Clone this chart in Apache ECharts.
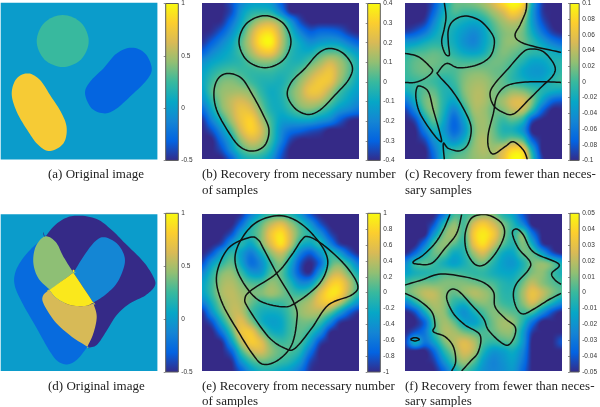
<!DOCTYPE html>
<html>
<head>
<meta charset="utf-8">
<style>
html, body { margin: 0; padding: 0; background: #fff; }
#main { width: 600px; height: 407px; }
</style>
<script src="https://cdn.jsdelivr.net/npm/echarts@6/dist/echarts.min.js"></script>
</head>
<body>
<div id="main"></div>
<script>
// parula colour stops
var parulaStops = ["#352a87", "#0363e1", "#1485d4", "#06a7c6", "#38b99e", "#92bf73", "#d9ba56", "#fcce2e", "#f9fb0e"];

// value grids, 17 x 17, top row first
var fieldB = [
  [-.4,-.4,-.4,-.33,-.2,-.13,-.12,-.15,-.3,-.4,-.4,-.4,-.4,-.4,-.4,-.4,-.4],
  [-.4,-.4,-.4,-.33,-.15,-.05,-.03,-.05,-.2,-.38,-.4,-.4,-.4,-.4,-.4,-.4,-.4],
  [-.4,-.4,-.38,-.25,-.1,.05,.15,.17,.07,-.13,-.33,-.4,-.4,-.4,-.4,-.4,-.4],
  [-.4,-.38,-.3,-.17,-.03,.15,.3,.32,.15,-.03,-.2,-.3,-.27,-.27,-.3,-.37,-.4],
  [-.38,-.3,-.2,-.1,.03,.18,.35,.38,.17,0,-.1,-.18,-.15,-.13,-.15,-.23,-.3],
  [-.3,-.2,-.13,-.07,.02,.13,.25,.27,.12,-.02,-.08,-.08,0,.03,.02,-.07,-.15],
  [-.18,-.12,-.08,-.05,-.02,.05,.1,.1,.03,-.04,-.05,.02,.1,.17,.12,.03,-.08],
  [-.12,-.05,0,.02,0,-.01,0,0,-.03,-.03,.03,.12,.2,.25,.15,.04,-.08],
  [-.1,0,.07,.08,.05,0,-.04,-.05,-.06,0,.1,.2,.27,.25,.12,0,-.1],
  [-.12,.03,.1,.12,.12,.08,-.02,-.08,-.05,.05,.14,.25,.25,.15,.02,-.07,-.13],
  [-.18,-.03,.1,.17,.2,.15,.03,-.07,-.06,.03,.12,.17,.15,.05,-.05,-.12,-.18],
  [-.28,-.1,.07,.17,.25,.22,.08,-.05,-.08,-.02,.05,.07,.02,-.06,-.15,-.2,-.25],
  [-.38,-.2,-.03,.13,.25,.3,.15,0,-.12,-.12,-.1,-.1,-.15,-.2,-.3,-.38,-.4],
  [-.4,-.32,-.15,.03,.2,.3,.2,.02,-.17,-.25,-.28,-.32,-.35,-.4,-.4,-.4,-.4],
  [-.4,-.4,-.25,-.08,.1,.2,.15,0,-.2,-.35,-.4,-.4,-.4,-.4,-.4,-.4,-.4],
  [-.4,-.4,-.33,-.15,0,.08,.05,-.07,-.28,-.4,-.4,-.4,-.4,-.4,-.4,-.4,-.4],
  [-.4,-.4,-.4,-.28,-.1,-.05,-.06,-.15,-.33,-.4,-.4,-.4,-.4,-.4,-.4,-.4,-.4]
];
var fieldC = [
  [-.1,-.1,-.1,-.08,-.03,.01,.015,.02,.03,.05,.08,.1,.08,-.02,-.09,-.1,-.1],
  [-.1,-.1,-.1,-.07,-.02,.005,0,0,.01,.03,.05,.075,.05,-.03,-.09,-.1,-.1],
  [-.1,-.1,-.09,-.05,-.01,-.01,-.02,-.025,-.015,.01,.03,.04,.025,-.03,-.08,-.1,-.1],
  [-.09,-.08,-.06,-.03,-.01,-.02,-.035,-.045,-.03,0,.02,.025,.015,-.02,-.06,-.09,-.1],
  [-.04,-.035,-.02,-.01,-.01,-.02,-.04,-.05,-.03,-.005,.02,.025,.015,-.005,-.03,-.055,-.07],
  [-.01,0,.005,.01,.005,-.01,-.025,-.03,-.02,.005,.02,.015,.005,-.005,-.01,-.02,-.03],
  [0,.01,.015,.015,.01,.005,0,0,.005,.015,.015,.005,-.01,-.025,-.025,-.015,-.01],
  [0,.01,.015,.01,.005,.005,.015,.02,.02,.015,.01,-.005,-.025,-.035,-.035,-.02,-.005],
  [-.005,0,.005,0,-.01,0,.02,.03,.03,.02,.01,-.005,-.015,-.025,-.025,-.01,0],
  [-.02,-.005,.01,.01,-.01,-.01,.02,.035,.035,.02,.015,.025,.02,.005,-.01,-.02,-.025],
  [-.06,-.02,.015,.02,-.01,-.025,.01,.035,.035,.02,.03,.05,.05,.02,-.03,-.07,-.08],
  [-.09,-.05,.005,.02,-.015,-.05,-.01,.03,.03,.015,.02,.04,.04,-.005,-.07,-.1,-.1],
  [-.1,-.085,-.025,.01,-.025,-.07,-.03,.02,.03,.015,0,.01,-.01,-.08,-.1,-.1,-.1],
  [-.1,-.1,-.055,-.015,-.035,-.07,-.04,.015,.03,.015,-.01,-.015,-.04,-.1,-.1,-.1,-.1],
  [-.1,-.1,-.085,-.04,-.025,-.045,-.02,.02,.035,.02,.01,.02,.005,-.07,-.1,-.1,-.1],
  [-.1,-.1,-.1,-.06,-.015,-.005,.005,.025,.035,.03,.05,.08,.07,-.02,-.1,-.1,-.1],
  [-.1,-.1,-.1,-.07,-.01,.01,.015,.025,.03,.03,.06,.1,.09,0,-.09,-.1,-.1]
];
var fieldE = [
  [-1,-1,-1,-1,-.95,-.55,-.2,-.02,.02,-.1,-.35,-.8,-1,-1,-1,-1,-1],
  [-1,-1,-1,-1,-.7,-.2,.1,.4,.55,.3,0,-.35,-.8,-1,-1,-1,-1],
  [-1,-1,-1,-.8,-.3,-.05,.2,.65,.85,.5,.1,-.1,-.4,-.85,-1,-1,-1],
  [-1,-1,-.85,-.35,-.1,-.25,.15,.55,.85,.45,-.1,-.25,-.1,-.5,-.9,-1,-1],
  [-1,-.8,-.35,-.05,-.3,-.55,-.2,.25,.45,.1,-.5,-.75,-.4,-.05,-.3,-.75,-1],
  [-.85,-.35,-.05,.1,-.25,-.65,-.45,0,.2,-.2,-.8,-1,-.7,0,.15,-.15,-.6],
  [-.5,-.1,.2,.25,0,-.35,-.35,.05,.1,-.3,-.8,-.95,-.35,.3,.45,.15,-.2],
  [-.3,0,.3,.35,.2,.05,.05,.25,.15,-.1,-.45,-.4,.15,.65,.75,.4,0],
  [-.3,0,.33,.4,.3,.2,.2,.3,.2,.05,-.05,.1,.55,.85,.8,.35,-.05],
  [-.55,-.15,.25,.4,.35,.15,0,.02,.02,.1,.2,.35,.6,.7,.45,0,-.4],
  [-.95,-.4,.1,.4,.4,.05,-.15,-.2,-.15,.05,.25,.35,.35,.15,-.25,-.7,-.95],
  [-1,-.8,-.2,.3,.55,.25,-.15,-.3,-.25,0,.15,.15,0,-.45,-.9,-1,-1],
  [-1,-1,-.6,.05,.6,.65,.2,-.15,-.2,0,.1,-.05,-.4,-.95,-1,-1,-1],
  [-1,-1,-.95,-.3,.35,.7,.55,.15,0,.05,.05,-.3,-.85,-1,-1,-1,-1],
  [-1,-1,-1,-.7,0,.4,.5,.25,.1,.05,-.1,-.6,-1,-1,-1,-1,-1],
  [-1,-1,-1,-.95,-.4,0,.15,.1,0,-.1,-.35,-.85,-1,-1,-1,-1,-1],
  [-1,-1,-1,-1,-.75,-.35,-.15,-.15,-.25,-.35,-.6,-.95,-1,-1,-1,-1,-1]
];
var fieldF = [
  [-.05,-.05,-.05,-.05,-.03,0,0,.005,.012,.01,-.005,-.015,-.04,-.05,-.05,-.05,-.05],
  [-.05,-.05,-.05,-.04,-.005,.012,.002,.025,.035,.025,.01,-.005,-.025,-.05,-.05,-.05,-.05],
  [-.05,-.05,-.05,-.02,.008,.015,.002,.035,.045,.035,.012,-.002,.008,-.03,-.05,-.05,-.05],
  [-.05,-.05,-.03,.002,.012,.005,-.002,.03,.042,.025,.005,-.005,.01,-.01,-.045,-.05,-.05],
  [-.05,-.035,-.01,.006,.006,-.01,-.005,.015,.025,.008,-.01,-.012,.006,.005,-.015,-.04,-.05],
  [-.025,-.002,.004,0,-.008,-.015,-.008,.003,.008,-.004,-.015,-.018,-.006,.008,.012,.005,-.01],
  [-.015,-.008,-.005,-.003,.002,.002,0,-.002,-.002,-.008,-.012,-.012,-.002,.01,.012,.002,-.008],
  [0,.006,.008,.008,.01,.01,.01,.008,.005,.002,-.005,-.006,.008,.02,.012,.005,0],
  [.005,.012,.02,.02,.012,.006,.012,.018,.015,.008,-.003,-.002,.015,.03,.022,.01,.002],
  [-.025,-.005,.012,.018,.012,-.002,-.006,.008,.012,.008,0,-.001,.012,.025,.012,-.005,-.02],
  [-.05,-.04,-.01,.012,.012,-.008,-.02,-.008,.002,.01,.008,.004,.002,.002,-.02,-.04,-.05],
  [-.05,-.05,-.035,.002,.015,.006,-.012,-.015,-.004,.008,.015,.012,-.005,-.03,-.05,-.05,-.05],
  [-.05,-.04,-.03,-.002,.016,.016,.008,.003,.002,.006,.012,.01,-.015,-.045,-.05,-.05,-.05],
  [-.045,-.01,-.03,-.015,.008,.018,.026,.018,.003,-.002,.002,.003,-.018,-.05,-.05,-.05,-.04],
  [-.05,-.05,-.05,-.035,-.005,.012,.025,.018,-.005,-.018,-.015,-.01,-.025,-.05,-.05,-.05,-.05],
  [-.05,-.05,-.05,-.045,-.02,.002,.015,.005,-.015,-.025,-.02,-.015,-.03,-.05,-.05,-.05,-.05],
  [-.05,-.05,-.05,-.05,-.035,-.012,.002,-.008,-.02,-.025,-.022,-.018,-.035,-.05,-.05,-.05,-.05]
];

// flat regions of the two original images, drawn back to front
// a point written twice is a sharp corner of the outline
var frameRegion = [[0,0],[470,0],[470,470],[0,470]];
var regionsA = [
  { value: 0, pts: frameRegion, straight: true },
  { value: .25, pts: [[108,115],[131,60],[186,37],[241,60],[264,115],[241,170],[186,193],[131,170]] },
  { value: .78, pts: [[83,212],[118,232],[148,277],[183,332],[198,377],[188,422],[148,445],[113,427],[83,387],[48,327],[33,272],[48,227]] },
  { value: -.3, pts: [[393,135],[433,152],[453,197],[438,232],[393,277],[348,317],[313,332],[273,317],[253,272],[268,237],[308,197],[348,152]] }
];
var regionsD = [
  { value: 0, pts: frameRegion, straight: true },
  { value: -.5, pts: [[133,69],[133,69],[158,37],[193,12],[233,4],[288,14],[333,47],[373,87],[428,142],[460,192],[461,217],[433,244],[388,267],[348,302],[313,357],[288,392],[263,400],[260,397],[260,397],[200,300],[200,300]] },
  { value: -.27, pts: [[133,69],[133,69],[98,97],[63,137],[43,177],[43,217],[68,272],[108,342],[148,412],[173,442],[203,450],[233,432],[260,397],[260,397],[200,300],[200,300],[150,150],[150,150]] },
  { value: -.12, pts: [[313,69],[348,87],[370,122],[370,157],[348,207],[313,242],[278,265],[278,265],[218,175],[218,175],[258,112],[288,77]] },
  { value: .43, pts: [[143,67],[168,87],[188,127],[218,175],[218,175],[148,227],[148,227],[113,192],[98,147],[103,102],[123,72]] },
  { value: .62, pts: [[146,227],[146,227],[168,252],[208,272],[253,275],[278,267],[278,267],[288,307],[278,357],[260,397],[260,397],[213,367],[163,322],[128,267],[128,242]] },
  { value: .92, pts: [[218,175],[218,175],[278,265],[278,265],[253,275],[208,272],[168,252],[146,227],[146,227]] }
];

// contour lines, closed ones repeat the first point
var contoursB = [
  [[110,117],[133,62],[188,39],[243,62],[266,117],[243,172],[188,195],[133,172],[110,117]],
  [[78,212],[118,227],[148,272],[183,337],[200,382],[188,427],[153,445],[113,432],[78,387],[43,322],[35,267],[48,227],[78,212]],
  [[383,137],[423,152],[450,192],[438,232],[398,277],[353,322],[316,335],[278,317],[255,277],[268,237],[308,197],[348,152],[383,137]]
];
var contoursC = [
  [[118,0],[123,42],[118,77],[110,117],[120,152],[133,157],[130,122],[130,82],[145,54],[180,40],[225,54],[260,92],[268,122],[255,162],[215,187],[160,195],[125,182],[100,207],[100,217],[140,262],[175,317],[198,372],[190,422],[165,444],[130,437],[115,422],[118,470]],
  [[45,250],[70,267],[85,322],[105,392],[108,417],[80,387],[45,332],[33,287],[35,257],[45,250]],
  [[0,152],[40,162],[75,192],[82,207],[60,227],[30,239],[0,239]],
  [[365,0],[362,27],[345,67],[330,97],[345,117],[390,132],[468,149]],
  [[375,139],[415,147],[448,187],[445,217],[410,252],[370,292],[325,334],[290,327],[265,307],[255,272],[270,242],[310,197],[350,152],[375,139]],
  [[468,239],[400,237],[340,240],[300,252],[275,282],[265,332],[250,392],[250,432],[265,454],[300,432],[325,417],[355,442],[367,470]]
];
var contoursE = [
  [[318,67],[363,92],[428,152],[466,212],[448,242],[378,272],[328,342],[278,402],[248,402],[198,367],[138,282],[128,252],[148,227],[223,177],[268,122],[298,77],[318,67]],
  [[143,69],[78,102],[43,182],[58,262],[108,352],[153,422],[183,450],[228,437],[268,392],[283,322],[278,272],[223,177],[183,102],[168,77],[143,69]],
  [[223,4],[278,17],[328,57],[368,112],[375,157],[348,212],[278,267],[238,277],[168,257],[118,197],[98,137],[113,82],[158,27],[223,4]]
];
var contoursF = [
  [[135,0],[115,47],[90,87],[55,122],[25,142],[35,149],[80,147],[120,102],[155,57],[170,0]],
  [[195,17],[180,62],[185,112],[210,150],[240,150],[275,112],[298,62],[290,27],[255,4],[220,2],[195,17]],
  [[468,210],[450,197],[440,177],[462,150],[400,122],[375,102],[355,62],[335,44],[322,57],[340,102],[375,142],[370,167],[335,207],[325,242],[335,282],[355,299],[390,282],[430,257],[468,237]],
  [[0,212],[50,197],[100,180],[160,184],[230,202],[265,232],[270,277],[300,312],[330,337],[328,367],[310,392],[285,382],[250,347],[235,312],[200,272],[160,230],[135,227],[125,252],[145,297],[180,332],[225,362],[220,412],[195,442],[170,470]],
  [[0,237],[40,257],[80,292],[90,332],[85,352],[120,367],[145,397],[152,442],[140,470]],
  [[17,375],[30,370],[43,375],[30,380],[17,375]]
];

// colour bar ranges and caption lines
var barMin = [-.5, -.4, -.1, -.5, -1, -.05];
var barMax = [1, .4, .1, 1, 1, .05];
var barStep = [.5, .1, .02, .5, .2, .01];
var captions = [
  ["(a) Original image"],
  ["(b) Recovery from necessary number", "of samples"],
  ["(c) Recovery from fewer than neces-", "sary samples"],
  ["(d) Original image"],
  ["(e) Recovery from necessary number", "of samples"],
  ["(f) Recovery from fewer than neces-", "sary samples"]
];

var SPAN = 470;
var panelLeft = [0.7, 202.3, 405, 0.7, 202.3, 405];
var panelTop = [2.7, 2.7, 2.7, 214.3, 214.3, 214.3];
var panelSize = 156.7;
var barLeft = [165.7, 367.7, 570, 165.7, 367.7, 570];
var captionLeft = [48, 202, 405, 48, 202, 405];
var captionY = [[175, 191], [175, 191], [175, 191], [387, 402], [387, 402], [387, 402]];

var stopRgb = parulaStops.map(function (c) {
  return [parseInt(c.substr(1, 2), 16), parseInt(c.substr(3, 2), 16), parseInt(c.substr(5, 2), 16)];
});

function parula(t) {
  t = Math.max(0, Math.min(1, t)) * (stopRgb.length - 1);
  var i = Math.min(Math.floor(t), stopRgb.length - 2);
  var f = t - i;
  return [0, 1, 2].map(function (k) {
    return stopRgb[i][k] + (stopRgb[i + 1][k] - stopRgb[i][k]) * f;
  });
}

function cubic(a, b, c, d, t) {
  return b + 0.5 * t * (c - a + t * (2 * a - 5 * b + 4 * c - d + t * (3 * (b - c) + d - a)));
}

function fieldAt(grid, gx, gy, tx, ty) {
  var n = grid.length - 1;
  var rows = [];
  for (var r = -1; r <= 2; r++) {
    var row = grid[Math.max(0, Math.min(n, gy + r))];
    rows.push(cubic(
      row[Math.max(0, gx - 1)], row[gx], row[Math.min(n, gx + 1)], row[Math.min(n, gx + 2)], tx
    ));
  }
  return cubic(rows[0], rows[1], rows[2], rows[3], ty);
}

// round an outline of screen points for drawing
function spline(pts, closed) {
  var n = pts.length;
  var out = [];
  function at(i) {
    return closed ? pts[(i + n) % n] : pts[Math.max(0, Math.min(n - 1, i))];
  }
  var last = closed ? n : n - 1;
  for (var i = 0; i < last; i++) {
    for (var k = 0; k < 8; k++) {
      var t = k / 8;
      out.push([
        cubic(at(i - 1)[0], at(i)[0], at(i + 1)[0], at(i + 2)[0], t),
        cubic(at(i - 1)[1], at(i)[1], at(i + 1)[1], at(i + 2)[1], t)
      ]);
    }
  }
  if (!closed) out.push(pts[n - 1]);
  return out;
}

function panelClip(params) {
  return {
    type: "rect",
    shape: { x: params.coordSys.x, y: params.coordSys.y, width: params.coordSys.width, height: params.coordSys.height }
  };
}

// one small smoothed tile per grid cell, placed through the axes
function fieldSeries(idx, grid, lo, hi) {
  var n = grid.length;
  var step = SPAN / (n - 1);
  var cells = [];
  for (var j = 0; j < n - 1; j++) {
    for (var i = 0; i < n - 1; i++) {
      cells.push([i * step, j * step, grid[j][i]]);
    }
  }
  return {
    type: "custom",
    xAxisIndex: idx * 2,
    yAxisIndex: idx * 2,
    silent: true,
    animation: false,
    data: cells,
    renderItem: function (params, api) {
      var x = api.value(0), y = api.value(1);
      var gx = Math.round(x / step), gy = Math.round(y / step);
      var p0 = api.coord([x, y]), p1 = api.coord([x + step, y + step]);
      var x0 = Math.round(p0[0]), y0 = Math.round(p0[1]);
      var w = Math.round(p1[0]) - x0, h = Math.round(p1[1]) - y0;
      var canvas = document.createElement("canvas");
      canvas.width = w;
      canvas.height = h;
      var ctx = canvas.getContext("2d");
      var img = ctx.createImageData(w, h);
      for (var py = 0; py < h; py++) {
        for (var px = 0; px < w; px++) {
          var v = fieldAt(grid, gx, gy, (px + 0.5) / w, (py + 0.5) / h);
          var rgb = parula((v - lo) / (hi - lo));
          var o = (py * w + px) * 4;
          img.data[o] = rgb[0];
          img.data[o + 1] = rgb[1];
          img.data[o + 2] = rgb[2];
          img.data[o + 3] = 255;
        }
      }
      ctx.putImageData(img, 0, 0);
      return { type: "image", style: { image: canvas, x: x0, y: y0, width: w, height: h } };
    }
  };
}

function regionSeries(idx, regions, lo, hi) {
  return {
    type: "custom",
    xAxisIndex: idx * 2,
    yAxisIndex: idx * 2,
    silent: true,
    animation: false,
    data: regions.map(function (r, k) { return [0, 0, k]; }),
    renderItem: function (params, api) {
      var r = regions[params.dataIndex];
      var rgb = parula((r.value - lo) / (hi - lo));
      var screen = r.pts.map(function (p) { return api.coord(p); });
      return {
        type: "polygon",
        shape: { points: r.straight ? screen : spline(screen, true) },
        style: { fill: "rgb(" + rgb.map(Math.round).join(",") + ")" }
      };
    }
  };
}

function contourSeries(idx, lines) {
  return {
    type: "custom",
    xAxisIndex: idx * 2,
    yAxisIndex: idx * 2,
    silent: true,
    animation: false,
    z: 5,
    data: lines.map(function (pts, k) { return [pts[0][0], pts[0][1], k]; }),
    renderItem: function (params, api) {
      var pts = lines[params.dataIndex];
      var first = pts[0], end = pts[pts.length - 1];
      var closed = first[0] === end[0] && first[1] === end[1];
      var screen = (closed ? pts.slice(0, -1) : pts).map(function (p) { return api.coord(p); });
      return {
        type: "polyline",
        shape: { points: spline(screen, closed).concat(closed ? [api.coord(first)] : []) },
        clipPath: panelClip(params),
        style: { stroke: "#111", lineWidth: 1.5, fill: null, lineJoin: "round" }
      };
    }
  };
}

function barSeries(idx) {
  return {
    type: "custom",
    xAxisIndex: idx * 2 + 1,
    yAxisIndex: idx * 2 + 1,
    silent: true,
    animation: false,
    data: [[0, barMin[idx], barMax[idx]]],
    renderItem: function (params, api) {
      var top = api.coord([0, api.value(2)]);
      var bottom = api.coord([1, api.value(1)]);
      var colorStops = parulaStops.map(function (c, k) {
        return { offset: 1 - k / (parulaStops.length - 1), color: c };
      });
      return {
        type: "rect",
        shape: { x: top[0], y: top[1], width: bottom[0] - top[0], height: bottom[1] - top[1] },
        style: {
          fill: new echarts.graphic.LinearGradient(0, 0, 0, 1, colorStops),
          stroke: "#5a5a5a",
          lineWidth: 1
        }
      };
    }
  };
}

var grids = [], xAxes = [], yAxes = [], series = [], titles = [];
var fields = [null, fieldB, fieldC, null, fieldE, fieldF];
var regionSets = [regionsA, null, null, regionsD, null, null];
var contourSets = [[], contoursB, contoursC, [], contoursE, contoursF];

for (var p = 0; p < 6; p++) {
  grids.push({ left: panelLeft[p], top: panelTop[p], width: panelSize, height: panelSize });
  grids.push({ left: barLeft[p], top: panelTop[p] - 1, width: 12.6, height: panelSize + 2 });
  xAxes.push({ type: "value", gridIndex: p * 2, min: 0, max: SPAN, show: false });
  yAxes.push({ type: "value", gridIndex: p * 2, min: 0, max: SPAN, inverse: true, show: false });
  xAxes.push({ type: "value", gridIndex: p * 2 + 1, min: 0, max: 1, show: false });
  yAxes.push({
    type: "value",
    gridIndex: p * 2 + 1,
    min: barMin[p],
    max: barMax[p],
    interval: barStep[p],
    position: "right",
    axisLine: { show: false },
    axisTick: { show: true, inside: true, length: 2, lineStyle: { color: "#444", width: 0.6 } },
    splitLine: { show: false },
    axisLabel: { fontSize: 6.5, margin: 3, color: "#333", fontFamily: "Liberation Sans" }
  });
  if (fields[p]) {
    series.push(fieldSeries(p, fields[p], barMin[p], barMax[p]));
  } else {
    series.push(regionSeries(p, regionSets[p], barMin[p], barMax[p]));
  }
  if (contourSets[p].length) {
    series.push(contourSeries(p, contourSets[p]));
  }
  series.push(barSeries(p));
  captions[p].forEach(function (line, k) {
    titles.push({
      text: line,
      left: captionLeft[p],
      top: captionY[p][k] - 7,
      padding: 0,
      textStyle: { fontSize: 13, fontWeight: "normal", color: "#222", fontFamily: "Liberation Serif" }
    });
  });
}

var myChart = echarts.init(document.getElementById("main"), null, { renderer: "canvas" });
myChart.setOption({
  animation: false,
  backgroundColor: "#fff",
  title: titles,
  grid: grids,
  xAxis: xAxes,
  yAxis: yAxes,
  series: series
});
</script>
</body>
</html>
